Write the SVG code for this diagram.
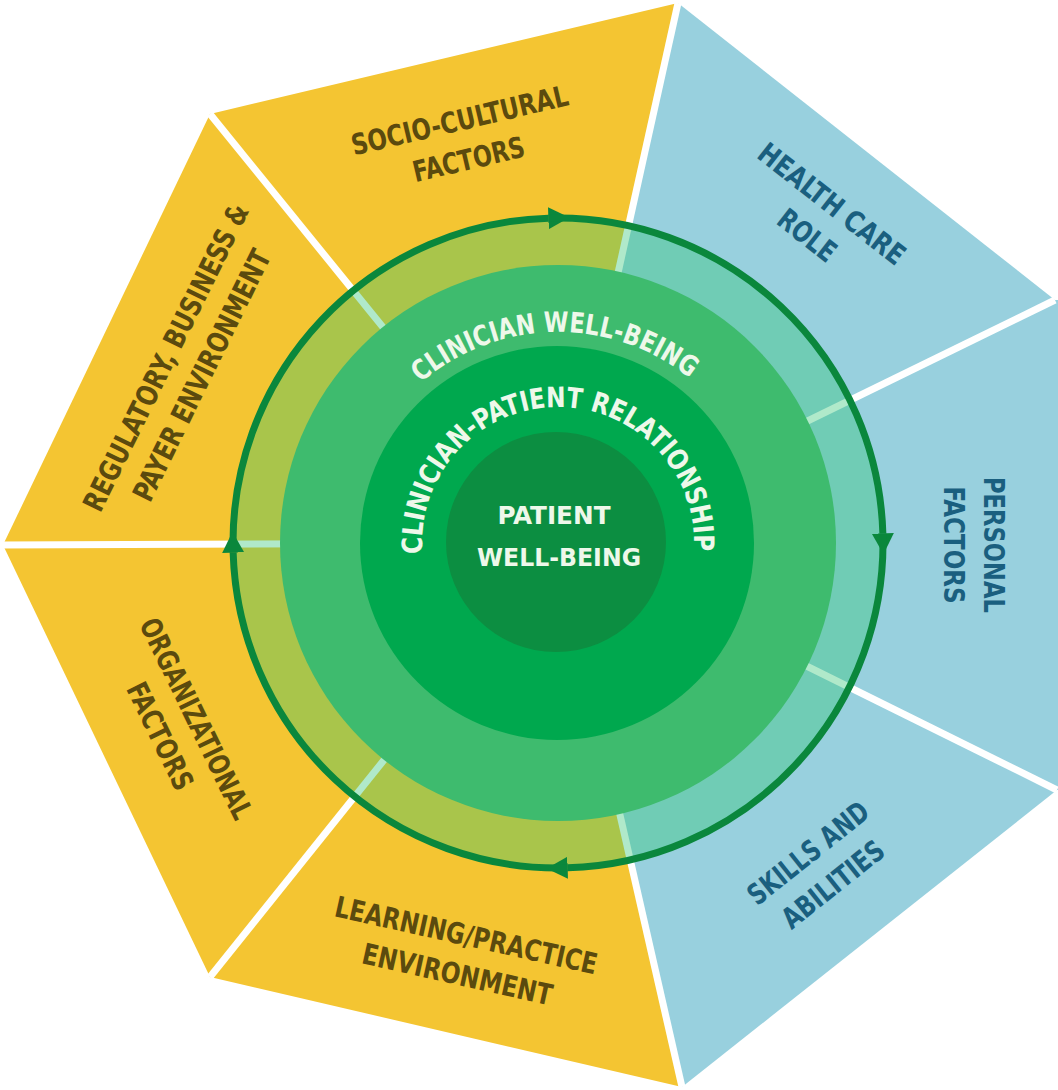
<svg xmlns="http://www.w3.org/2000/svg" width="1058" height="1090" viewBox="0 0 1058 1090">
  <style>
    .seg-y { fill: #F4C532; }
    .seg-b { fill: #98D0DE; }
    .sep { stroke: #FFFFFF; stroke-width: 7; stroke-linecap: butt; }
    .lbl { font-family: "DejaVu Sans Condensed", "Liberation Sans Narrow", "Liberation Sans", sans-serif; font-weight: bold; font-size: 29px; text-anchor: middle; }
    .lbl-y { fill: #5B4A0E; }
    .lbl-b { fill: #1A5F7F; }
    .core-txt { font-family: "DejaVu Sans Condensed", "Liberation Sans Narrow", "Liberation Sans", sans-serif; font-weight: bold; font-size: 28px; fill: #EEF8EA; text-anchor: middle; }
    .center-txt { font-size: 25px; }
    .loop { fill: none; stroke: #0A873C; stroke-width: 7; }
  </style>
  <defs>
    <marker id="loop-head" markerUnits="userSpaceOnUse" markerWidth="24" markerHeight="24" refX="0" refY="11" orient="auto">
      <path d="M0,0 L21,11 L0,22 Z" fill="#0A873C"/>
    </marker>
    <path id="arc-clinician" d="M359.73,615.17 A211,211 0 1 1 758.67,608.20"/>
    <path id="arc-relationship" d="M430.20,589.51 A136,136 0 1 1 686.59,587.28"/>
  </defs>

  <rect width="1058" height="1090" fill="#FFFFFF"/>

  <!-- outer heptagon segments, centre (558,543) -->
  <g id="socio-cultural">
    <polygon class="seg-y" points="558,543 210,114 678,3"/>
    <g transform="translate(464,139) rotate(-13.2)">
      <text class="lbl lbl-y" y="-9" textLength="222" lengthAdjust="spacingAndGlyphs">SOCIO-CULTURAL</text>
      <text class="lbl lbl-y" y="31" textLength="114" lengthAdjust="spacingAndGlyphs">FACTORS</text>
    </g>
  </g>
  <g id="health-care-role">
    <polygon class="seg-b" points="558,543 678,3 1055,300"/>
    <g transform="translate(820,219) rotate(38)">
      <text class="lbl lbl-b" y="-9" textLength="178" lengthAdjust="spacingAndGlyphs">HEALTH CARE</text>
      <text class="lbl lbl-b" y="31" textLength="66" lengthAdjust="spacingAndGlyphs">ROLE</text>
    </g>
  </g>
  <g id="personal-factors">
    <polygon class="seg-b" points="558,543 1055,300 1058,300 1058,790 1057,790"/>
    <g transform="translate(975,545) rotate(90)">
      <text class="lbl lbl-b" y="-9" textLength="136" lengthAdjust="spacingAndGlyphs">PERSONAL</text>
      <text class="lbl lbl-b" y="31" textLength="117" lengthAdjust="spacingAndGlyphs">FACTORS</text>
    </g>
  </g>
  <g id="skills-and-abilities">
    <polygon class="seg-b" points="558,543 1057,790 682,1087"/>
    <g transform="translate(820,868) rotate(-38.5)">
      <text class="lbl lbl-b" y="-9" textLength="146" lengthAdjust="spacingAndGlyphs">SKILLS AND</text>
      <text class="lbl lbl-b" y="31" textLength="122" lengthAdjust="spacingAndGlyphs">ABILITIES</text>
    </g>
  </g>
  <g id="learning-practice-environment">
    <polygon class="seg-y" points="558,543 682,1087 210,977"/>
    <g transform="translate(462,954) rotate(12.6)">
      <text class="lbl lbl-y" y="-9" textLength="268" lengthAdjust="spacingAndGlyphs">LEARNING/PRACTICE</text>
      <text class="lbl lbl-y" y="31" textLength="194" lengthAdjust="spacingAndGlyphs">ENVIRONMENT</text>
    </g>
  </g>
  <g id="organizational-factors">
    <polygon class="seg-y" points="558,543 210,977 3,545"/>
    <g transform="translate(179,727) rotate(64)">
      <text class="lbl lbl-y" y="-9" textLength="220" lengthAdjust="spacingAndGlyphs">ORGANIZATIONAL</text>
      <text class="lbl lbl-y" y="31" textLength="116" lengthAdjust="spacingAndGlyphs">FACTORS</text>
    </g>
  </g>
  <g id="regulatory-business-payer">
    <polygon class="seg-y" points="558,543 3,545 210,114"/>
    <g transform="translate(183,366) rotate(-63.8)">
      <text class="lbl lbl-y" y="-9" textLength="338" lengthAdjust="spacingAndGlyphs">REGULATORY, BUSINESS &amp;</text>
      <text class="lbl lbl-y" y="31" textLength="276" lengthAdjust="spacingAndGlyphs">PAYER ENVIRONMENT</text>
    </g>
  </g>

  <!-- white gaps between segments -->
  <g id="dividers">
    <line class="sep" x1="558" y1="543" x2="210" y2="114"/>
    <line class="sep" x1="558" y1="543" x2="678" y2="3"/>
    <line class="sep" x1="558" y1="543" x2="1055" y2="300"/>
    <line class="sep" x1="558" y1="543" x2="1057" y2="790"/>
    <line class="sep" x1="558" y1="543" x2="682" y2="1087"/>
    <line class="sep" x1="558" y1="543" x2="210" y2="977"/>
    <line class="sep" x1="558" y1="543" x2="0" y2="545"/>
  </g>

  <!-- translucent band inside the loop -->
  <circle id="loop-band" cx="558" cy="543" r="325" fill="#30C673" fill-opacity="0.38"/>

  <g id="clinician-well-being">
    <circle cx="558" cy="543" r="278" fill="#3EBB6E"/>
    <text class="core-txt">
      <textPath href="#arc-clinician" startOffset="50%" textLength="292" lengthAdjust="spacingAndGlyphs">CLINICIAN WELL-BEING</textPath>
    </text>
  </g>
  <g id="clinician-patient-relationship">
    <circle cx="557" cy="543" r="197" fill="#00A84E"/>
    <text class="core-txt">
      <textPath href="#arc-relationship" startOffset="50%" textLength="446" lengthAdjust="spacingAndGlyphs">CLINICIAN-PATIENT RELATIONSHIP</textPath>
    </text>
  </g>
  <g id="patient-well-being">
    <circle cx="556" cy="542" r="110" fill="#0C8E41"/>
    <text class="core-txt center-txt" x="554" y="524" textLength="113" lengthAdjust="spacingAndGlyphs">PATIENT</text>
    <text class="core-txt center-txt" x="559" y="566" textLength="164" lengthAdjust="spacingAndGlyphs">WELL-BEING</text>
  </g>

  <!-- clockwise loop with four arrowheads -->
  <g id="connectors">
    <path class="loop" d="M233.14,552.64 A325,325 0 0 1 548.36,218.14" marker-end="url(#loop-head)"/>
    <path class="loop" d="M548.36,218.14 A325,325 0 0 1 882.86,533.36" marker-end="url(#loop-head)"/>
    <path class="loop" d="M882.86,533.36 A325,325 0 0 1 567.64,867.86" marker-end="url(#loop-head)"/>
    <path class="loop" d="M567.64,867.86 A325,325 0 0 1 233.14,552.64" marker-end="url(#loop-head)"/>
  </g>
</svg>
